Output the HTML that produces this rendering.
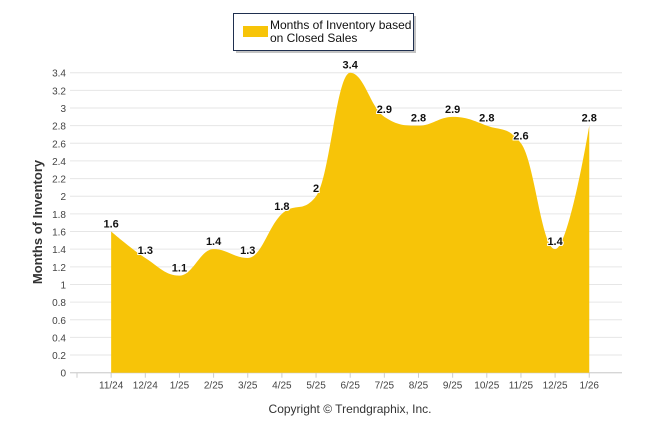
<!DOCTYPE html>
<html><head><meta charset="utf-8"><style>
body{margin:0;background:#fff;width:646px;height:434px;overflow:hidden;font-family:"Liberation Sans",sans-serif}
</style></head><body>
<svg width="646" height="434" id="c">
<g id="grid"></g>
<path id="area" fill="#f7c408"/>
<g id="labels"></g>
<text x="42" y="222" transform="rotate(-90 42 222)" text-anchor="middle" font-size="13" font-weight="bold" fill="#333">Months of Inventory</text>
<text x="350" y="413" text-anchor="middle" font-size="12" fill="#333">Copyright © Trendgraphix, Inc.</text>
<g>
<rect x="236" y="16" width="180" height="37" fill="#888" opacity="0.5"/>
<rect x="233.5" y="13.5" width="180" height="37" fill="#fff" stroke="#1f2f4f" stroke-width="1"/>
<rect x="243" y="26" width="25" height="11" fill="#f7c408"/>
<text x="270" y="29" font-size="12" fill="#111">Months of Inventory based</text>
<text x="270" y="42" font-size="12" fill="#111">on Closed Sales</text>
</g>
</svg>
<script>
const categories=["11/24","12/24","1/25","2/25","3/25","4/25","5/25","6/25","7/25","8/25","9/25","10/25","11/25","12/25","1/26"];
const values=[1.6,1.3,1.1,1.4,1.3,1.8,2,3.4,2.9,2.8,2.9,2.8,2.6,1.4,2.8];
const yTicks=[0,0.2,0.4,0.6,0.8,1,1.2,1.4,1.6,1.8,2,2.2,2.4,2.6,2.8,3,3.2,3.4];
const NS="http://www.w3.org/2000/svg";
const x0=77,step=34.15,yb=372.7,ppu=300/3.4;
const X=i=>x0+step*(i+1);
const Y=v=>yb-v*ppu;
const grid=document.getElementById('grid'),lab=document.getElementById('labels');
function mk(tag,attrs,parent,txt){const e=document.createElementNS(NS,tag);for(const k in attrs)e.setAttribute(k,attrs[k]);if(txt!==undefined)e.textContent=txt;parent.appendChild(e);return e;}
yTicks.forEach(t=>{
 const l=mk('line',{x1:70,x2:622,y1:Y(t),y2:Y(t),stroke:'#e6e6e6','stroke-width':1},grid);
 
 
 const tx=mk('text',{x:66,y:Y(t)+4,'text-anchor':'end','font-size':10,fill:'#444'},grid,String(t));
 
 
});
mk('line',{x1:70,x2:622,y1:yb,y2:yb,stroke:'#ccc'},grid);
for(let i=0;i<=categories.length;i++){mk('line',{x1:x0+step*i,x2:x0+step*i,y1:yb,y2:yb+5,stroke:'#ccc'},grid);}
categories.forEach((c,i)=>{
 const t=mk('text',{x:X(i)-step/2+step/2,y:yb+16,'text-anchor':'middle','font-size':10,fill:'#444'},grid,c);
 
 
});
// spline like Highcharts
const pts=values.map((v,i)=>[X(i),Y(v)]);
let d=`M${pts[0][0]},${yb}L${pts[0][0]},${pts[0][1]}`;
const sm=1.5,den=sm+1;
function ctrl(i){ // returns [left ctrl, right ctrl] for point i
 const p=pts[i],a=pts[i-1],b=pts[i+1];
 if(!a||!b)return [p,p];
 let lx=(sm*p[0]+a[0])/den,ly=(sm*p[1]+a[1])/den,rx=(sm*p[0]+b[0])/den,ry=(sm*p[1]+b[1])/den;
 let corr=0;if(rx!==lx)corr=((ry-ly)*(rx-p[0]))/(rx-lx)+p[1]-ry;
 ly+=corr;ry+=corr;
 if(ly>Math.max(a[1],p[1])){ly=Math.max(a[1],p[1]);ry=2*p[1]-ly;}else if(ly<Math.min(a[1],p[1])){ly=Math.min(a[1],p[1]);ry=2*p[1]-ly;}
 if(ry>Math.max(b[1],p[1])){ry=Math.max(b[1],p[1]);ly=2*p[1]-ry;}else if(ry<Math.min(b[1],p[1])){ry=Math.min(b[1],p[1]);ly=2*p[1]-ry;}
 return [[lx,ly],[rx,ry]];
}
const cs=pts.map((_,i)=>ctrl(i));
for(let i=1;i<pts.length;i++){const c1=cs[i-1][1],c2=cs[i][0];d+=`C${c1[0]},${c1[1]} ${c2[0]},${c2[1]} ${pts[i][0]},${pts[i][1]}`;}
d+=`L${pts[pts.length-1][0]},${yb}Z`;
document.getElementById('area').setAttribute('d',d);
values.forEach((v,i)=>{
 const t=mk('text',{x:X(i),y:Y(v)-4,'text-anchor':'middle','font-size':11,'font-weight':'bold',fill:'#111',stroke:'#fff','stroke-width':2,'paint-order':'stroke'},lab,String(v));
 
 
});
</script>
</body></html>
